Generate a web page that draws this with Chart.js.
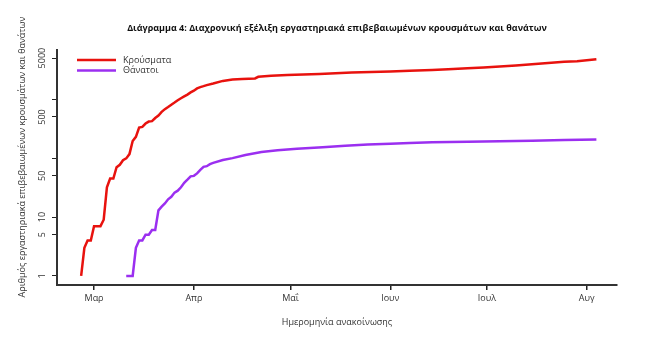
<!DOCTYPE html>
<html>
<head>
<meta charset="utf-8">
<script src="https://cdn.jsdelivr.net/npm/chart.js@4"></script>
<style>
  html, body { margin: 0; padding: 0; background: #fff; }
  #chart { display: block; }
</style>
</head>
<body>
<canvas id="chart" width="668" height="346"></canvas>
<script>
// days counted from 1 March (0 = 1 Μαρ)
const caseDays = [-4, -3, -2, -1, 0, 1, 2, 3, 4, 5, 6, 7, 8, 9, 10, 11, 12, 13, 14, 15, 16, 17, 18, 19, 20, 21, 22, 23, 24, 25, 26, 27, 28, 29, 30, 31, 32, 33, 34, 35, 37, 40, 43, 46, 50, 51, 55, 60, 65, 70, 75, 80, 86, 92, 98, 105, 110, 116, 121, 126, 131, 136, 141, 146, 150, 153, 156];
const caseValues = [1, 3, 4, 4, 7, 7, 7, 9, 32, 45, 45, 70, 77, 92, 99, 117, 195, 230, 331, 340, 387, 418, 425, 480, 530, 610, 680, 740, 810, 880, 960, 1040, 1120, 1200, 1310, 1400, 1530, 1610, 1670, 1740, 1850, 2050, 2160, 2210, 2260, 2410, 2500, 2590, 2640, 2690, 2760, 2840, 2900, 2960, 3040, 3150, 3230, 3350, 3470, 3600, 3760, 3950, 4150, 4330, 4430, 4600, 4800];

const deathDays = [10, 11, 12, 13, 14, 15, 16, 17, 18, 19, 20, 21, 22, 23, 24, 25, 26, 27, 28, 29, 30, 31, 32, 33, 34, 35, 36, 37, 40, 43, 47, 52, 57, 63, 71, 78, 85, 92, 98, 105, 116, 126, 136, 146, 156];
const deathValues = [1, 1, 1, 3, 4, 4, 5, 5, 6, 6, 13, 15, 17, 20, 22, 26, 28, 32, 38, 43, 49, 50, 55, 63, 71, 73, 79, 83, 93, 100, 113, 127, 136, 145, 153, 163, 170, 176, 181, 186, 190, 193, 198, 203, 208];

const monthDays = [0, 31, 61, 92, 122, 153];
const monthLabels = ['Μαρ', 'Απρ', 'Μαΐ', 'Ιουν', 'Ιουλ', 'Αυγ'];

const yTicks = [1, 5, 10, 50, 100, 500, 1000, 5000];
const yTickLabels = ['1', '5', '10', '50', '', '500', '', '5000'];

const seriesNames = ['Κρούσματα', 'Θάνατοι'];
const seriesColors = ['#e8120e', '#9b2ff0'];

const titleText = 'Διάγραμμα 4: Διαχρονική εξέλιξη εργαστηριακά επιβεβαιωμένων κρουσμάτων και θανάτων';
const xTitle = 'Ημερομηνία ανακοίνωσης';
const yTitle = 'Αριθμός εργαστηριακά επιβεβαιωμένων κρουσμάτων και θανάτων';

const FONT = '"Open Sans", "Noto Sans", sans-serif';

const toPoints = (xs, ys) => xs.map((x, i) => ({ x: x, y: ys[i] }));

// extra text: title, axis titles, rotated y labels, legend
const decorations = {
    id: 'decorations',
    afterDraw(chart) {
        const ctx = chart.ctx;
        const y = chart.scales.y;
        ctx.save();
        ctx.fillStyle = '#111';
        ctx.textAlign = 'center';
        ctx.textBaseline = 'middle';

        ctx.font = 'bold 9px ' + FONT;
        ctx.fillText(titleText, 337, 28);

        ctx.font = '9px ' + FONT;
        ctx.fillStyle = '#333';
        ctx.fillText(xTitle, 337, 322);

        // y tick labels, parallel to the axis
        yTicks.forEach((v, i) => {
            if (!yTickLabels[i]) return;
            ctx.save();
            ctx.translate(42, y.getPixelForValue(v));
            ctx.rotate(-Math.PI / 2);
            ctx.fillText(yTickLabels[i], 0, 0);
            ctx.restore();
        });

        ctx.save();
        ctx.translate(22, 157);
        ctx.rotate(-Math.PI / 2);
        ctx.font = '9px ' + FONT;
        ctx.fillText(yTitle, 0, 0);
        ctx.restore();

        // legend
        ctx.textAlign = 'left';
        ctx.font = '9px ' + FONT;
        seriesNames.forEach((name, i) => {
            const ly = 60 + i * 10.5;
            ctx.strokeStyle = seriesColors[i];
            ctx.lineWidth = 2.5;
            ctx.beginPath();
            ctx.moveTo(77, ly);
            ctx.lineTo(116, ly);
            ctx.stroke();
            ctx.fillStyle = '#333';
            ctx.fillText(name, 123, ly);
        });
        ctx.restore();
    }
};

new Chart(document.getElementById('chart'), {
    type: 'line',
    data: {
        datasets: [
            {
                label: seriesNames[0],
                data: toPoints(caseDays, caseValues),
                borderColor: seriesColors[0],
                borderWidth: 2.5,
                pointRadius: 0,
                tension: 0
            },
            {
                label: seriesNames[1],
                data: toPoints(deathDays, deathValues),
                borderColor: seriesColors[1],
                borderWidth: 2.5,
                pointRadius: 0,
                tension: 0
            }
        ]
    },
    options: {
        responsive: false,
        animation: false,
        layout: { padding: { top: 50, right: 51, left: 0, bottom: 0 } },
        plugins: {
            legend: { display: false },
            tooltip: { enabled: false }
        },
        scales: {
            x: {
                type: 'linear',
                min: -11.5,
                max: 162.4,
                afterBuildTicks: (scale) => {
                    scale.ticks = monthDays.map(v => ({ value: v }));
                },
                afterFit: (scale) => { scale.height = 61; },
                ticks: {
                    autoSkip: false,
                    maxRotation: 0,
                    padding: 3,
                    color: '#333',
                    font: { family: FONT, size: 9 },
                    callback: (v) => {
                        const i = monthDays.indexOf(v);
                        return i >= 0 ? monthLabels[i] : '';
                    }
                },
                grid: { drawOnChartArea: false, drawTicks: true, tickLength: 5, color: '#222', lineWidth: 1.5 },
                border: { display: true, color: '#333', width: 2 }
            },
            y: {
                type: 'logarithmic',
                min: 0.703,
                max: 6870,
                afterBuildTicks: (scale) => {
                    scale.ticks = yTicks.map(v => ({ value: v }));
                },
                afterFit: (scale) => { scale.width = 57; },
                ticks: { display: false },
                grid: { drawOnChartArea: false, drawTicks: true, tickLength: 5, color: '#222', lineWidth: 1 },
                border: { display: true, color: '#333', width: 2 }
            }
        }
    },
    plugins: [decorations]
});
</script>
</body>
</html>
